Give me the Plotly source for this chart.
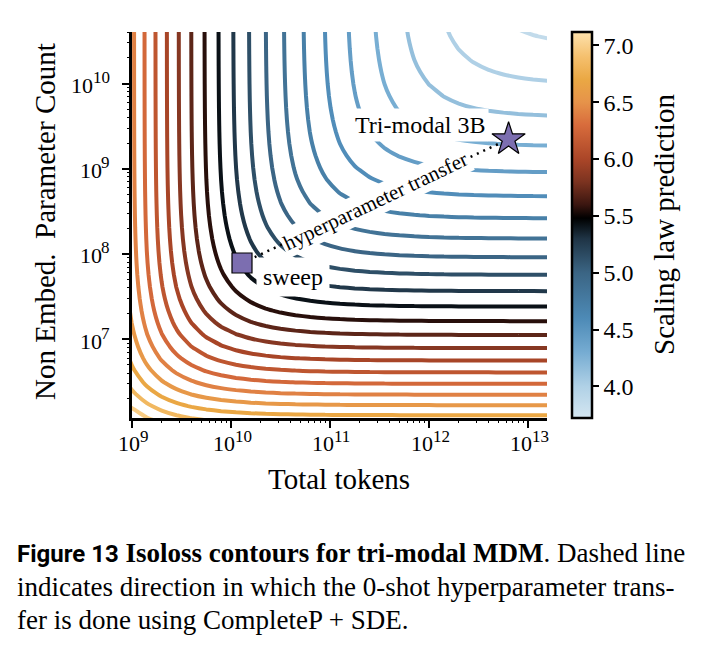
import numpy as np
import plotly.graph_objects as go

# ---------------- data ----------------
# fitted scaling law:  L(N, D) = E + ((NC/N)^ALPHA + (DC/D)^BETA)^GAMMA
LAW_E = 2.956
LAW_NC = 1.38e10
LAW_ALPHA = 0.819
LAW_DC = 1.397e12
LAW_BETA = 0.994
LAW_GAMMA = 0.1733

LEVEL_MIN = 3.722          # colour-bar bottom
LEVEL_MAX = 7.117          # colour-bar top
LEVEL_STEPS = 24           # equally spaced iso-loss levels

TOKENS_LOG_RANGE = [9.0, 13.19]
PARAMS_LOG_RANGE = [6.074, 10.605]

X_TICK_EXP = [9, 10, 11, 12, 13]
Y_TICK_EXP = [6, 7, 8, 9, 10]
Y_LABEL_EXP = [7, 8, 9, 10]
MINOR_MULT = [2, 3, 4, 5, 6, 7, 8, 9]
CBAR_TICKS = [4.0, 4.5, 5.0, 5.5, 6.0, 6.5, 7.0]

CBAR_STOPS = [3.722, 4.0, 4.3, 4.6, 5.0, 5.3, 5.48, 5.6, 5.8, 6.0, 6.3, 6.5, 6.7, 6.9, 7.117]
CBAR_COLORS = ['#d4e6f1', '#b0d1e6', '#76acd2', '#4d8ab6', '#3b6584', '#1f3445', '#000000',
               '#3b1610', '#7c3320', '#ab4628', '#d86c3c', '#e6934a', '#eaa844', '#f5c06e', '#fde2ad']

SWEEP_POINT = [1.29e10, 7.82e7]       # (tokens, params)
TRIMODAL_POINT = [6.34e12, 2.22e9]
MARK_COLOR = '#7c6eb0'

SERIF = 'Liberation Serif, Times New Roman, DejaVu Serif, serif'

# ---------------- grid (coarse, like the reference) ----------------
logD = np.arange(TOKENS_LOG_RANGE[0] - 0.15, TOKENS_LOG_RANGE[1] + 0.16, 0.15)
logN = np.arange(PARAMS_LOG_RANGE[0] - 0.14, PARAMS_LOG_RANGE[1] + 0.15, 0.14)
D = 10 ** logD
N = 10 ** logN
DD, NN = np.meshgrid(D, N)
Z = LAW_E + ((LAW_NC / NN) ** LAW_ALPHA + (LAW_DC / DD) ** LAW_BETA) ** LAW_GAMMA

span = LEVEL_MAX - LEVEL_MIN
colorscale = [[(v - LEVEL_MIN) / span, c] for v, c in zip(CBAR_STOPS, CBAR_COLORS)]
colorscale[0][0] = 0.0
colorscale[-1][0] = 1.0

fig = go.Figure()
fig.add_trace(go.Contour(
    x=D, y=N, z=Z,
    autocontour=False,
    contours=dict(start=LEVEL_MIN, end=LEVEL_MAX, size=span / LEVEL_STEPS, coloring='lines'),
    colorscale=colorscale,
    line=dict(width=4, smoothing=0.3),
    showscale=False,
    hoverinfo='skip',
))

# colour bar (continuous) via an invisible helper trace
fig.add_trace(go.Scatter(
    x=[1e8, 1e8], y=[1e5, 1e5], mode='markers',
    marker=dict(color=[LEVEL_MIN, LEVEL_MAX], colorscale=colorscale, cmin=LEVEL_MIN, cmax=LEVEL_MAX,
                size=1, showscale=True,
                colorbar=dict(x=1.06, xanchor='left', xpad=0, ypad=0, y=0.5, yanchor='middle',
                              len=1, lenmode='fraction', thickness=20, thicknessmode='pixels',
                              outlinewidth=2.5, outlinecolor='black',
                              ticks='outside', ticklen=6, tickwidth=1.5, tickcolor='black',
                              tickvals=CBAR_TICKS, ticktext=['%.1f' % t for t in CBAR_TICKS],
                              tickfont=dict(family=SERIF, size=24, color='black'))),
    hoverinfo='skip', showlegend=False,
))

# helper trace on the overlay axes that carry the minor ticks
fig.add_trace(go.Scatter(x=[1e8], y=[1e5], xaxis='x2', yaxis='y2', mode='markers',
                         marker=dict(size=1, opacity=0), hoverinfo='skip', showlegend=False))

# dotted transfer line
fig.add_trace(go.Scatter(
    x=[SWEEP_POINT[0], TRIMODAL_POINT[0]], y=[SWEEP_POINT[1], TRIMODAL_POINT[1]],
    mode='lines', line=dict(color='black', width=2.5, dash='2px,5px'),
    hoverinfo='skip', showlegend=False,
))
fig.add_trace(go.Scatter(
    x=[SWEEP_POINT[0]], y=[SWEEP_POINT[1]], mode='markers',
    marker=dict(symbol='square', size=20, color=MARK_COLOR, line=dict(color='black', width=1.2)),
    hoverinfo='skip', showlegend=False,
))
fig.add_trace(go.Scatter(
    x=[TRIMODAL_POINT[0]], y=[TRIMODAL_POINT[1]], mode='markers',
    marker=dict(symbol='star', size=25, color=MARK_COLOR, line=dict(color='black', width=1.2)),
    hoverinfo='skip', showlegend=False,
))

X_MINOR = [m * 10.0 ** e for e in X_TICK_EXP for m in MINOR_MULT]
Y_MINOR = [m * 10.0 ** e for e in Y_TICK_EXP for m in MINOR_MULT]

fig.update_layout(
    xaxis=dict(type='log', range=TOKENS_LOG_RANGE, showgrid=False, zeroline=False, showline=True,
               linewidth=2.5, linecolor='black', ticks='outside', ticklen=7, tickwidth=1.5,
               tickcolor='black', showticklabels=False,
               tickvals=[10.0 ** e for e in X_TICK_EXP]),
    yaxis=dict(type='log', range=PARAMS_LOG_RANGE, showgrid=False, zeroline=False, showline=True,
               linewidth=2.5, linecolor='black', ticks='outside', ticklen=7, tickwidth=1.5,
               tickcolor='black', showticklabels=False,
               tickvals=[10.0 ** e for e in Y_LABEL_EXP]),
    xaxis2=dict(type='log', range=TOKENS_LOG_RANGE, overlaying='x', anchor='y', side='bottom',
                showgrid=False, zeroline=False, showline=False, showticklabels=False,
                ticks='outside', ticklen=4, tickwidth=1, tickcolor='black', tickvals=X_MINOR),
    yaxis2=dict(type='log', range=PARAMS_LOG_RANGE, overlaying='y', anchor='x', side='left',
                showgrid=False, zeroline=False, showline=False, showticklabels=False,
                ticks='outside', ticklen=4, tickwidth=1, tickcolor='black', tickvals=Y_MINOR),
)

# --- pixel helpers for paper coordinates
PLOT_L, PLOT_W, PLOT_B, PLOT_H = 132, 415, 418, 386


def px(xp):
    return (xp - PLOT_L) / PLOT_W


def py(yp):
    return (PLOT_B - yp) / PLOT_H


# --- major tick labels "10^e" (base + raised exponent)
BASE_SIZE, EXP_SIZE = 22, 17
BASE_W = BASE_SIZE * 1.0           # "10" in a Times-metric font
for e in X_TICK_EXP:
    w_exp = EXP_SIZE * 0.5 * len(str(e))
    w = BASE_W + w_exp
    fig.add_annotation(xref='x', yref='paper', x=e, y=py(443), xanchor='left', yanchor='middle',
                       xshift=-w / 2, text='10', showarrow=False, borderpad=0,
                       font=dict(family=SERIF, size=BASE_SIZE, color='black'))
    fig.add_annotation(xref='x', yref='paper', x=e, y=py(436), xanchor='left', yanchor='middle',
                       xshift=-w / 2 + BASE_W, text=str(e), showarrow=False, borderpad=0,
                       font=dict(family=SERIF, size=EXP_SIZE, color='black'))
Y_LABEL_RIGHT = 111
for e in Y_LABEL_EXP:
    w_exp = EXP_SIZE * 0.5 * len(str(e))
    fig.add_annotation(xref='paper', yref='y', x=px(Y_LABEL_RIGHT - w_exp), y=e, xanchor='right',
                       yanchor='middle', yshift=-2, text='10', showarrow=False, borderpad=0,
                       font=dict(family=SERIF, size=BASE_SIZE, color='black'))
    fig.add_annotation(xref='paper', yref='y', x=px(Y_LABEL_RIGHT), y=e, xanchor='right',
                       yanchor='middle', yshift=6, text=str(e), showarrow=False, borderpad=0,
                       font=dict(family=SERIF, size=EXP_SIZE, color='black'))

TITLE_FONT = dict(family=SERIF, size=29, color='black')
# axis titles
fig.add_annotation(xref='paper', yref='paper', x=px(339), y=py(479), xanchor='center', yanchor='middle',
                   text='Total tokens', showarrow=False, font=TITLE_FONT)
fig.add_annotation(xref='paper', yref='paper', x=px(45), y=py(222), xanchor='center', yanchor='middle',
                   text='Non Embed.\u00a0 Parameter Count', textangle=-90, showarrow=False, font=TITLE_FONT)
fig.add_annotation(xref='paper', yref='paper', x=px(664), y=py(225), xanchor='center', yanchor='middle',
                   text='Scaling law prediction', textangle=-90, showarrow=False, font=TITLE_FONT)

# --- in-plot labels (x/y in log10 units for log axes)
fig.add_annotation(x=np.log10(TRIMODAL_POINT[0]) - 0.895, y=np.log10(TRIMODAL_POINT[1]) + 0.165,
                   xanchor='center', yanchor='middle',
                   text='Tri-modal 3B', showarrow=False, font=dict(family=SERIF, size=24, color='black'),
                   bgcolor='white', borderpad=3)
fig.add_annotation(x=np.log10(SWEEP_POINT[0]) + 0.514, y=np.log10(SWEEP_POINT[1]) - 0.165,
                   xanchor='center', yanchor='middle',
                   text='sweep', showarrow=False, font=dict(family=SERIF, size=24, color='black'),
                   bgcolor='white', borderpad=6)
mid_x = 11.461
mid_y = np.log10(SWEEP_POINT[1]) + (mid_x - np.log10(SWEEP_POINT[0])) * (
    (np.log10(TRIMODAL_POINT[1]) - np.log10(SWEEP_POINT[1])) / (np.log10(TRIMODAL_POINT[0]) - np.log10(SWEEP_POINT[0])))
fig.add_annotation(x=mid_x, y=mid_y, xanchor='center', yanchor='middle',
                   text='hyperparameter transfer', showarrow=False, textangle=-25.5,
                   font=dict(family=SERIF, size=21, color='black'), bgcolor='white', borderpad=2)

# --- caption (below the figure)
SANS_BOLD = 'Roboto, Liberation Sans, sans-serif'
caption = [
    ("<b><span style='font-family:" + SANS_BOLD + ";font-size:24px'>Figure\u00a013</span>\u00a0Isoloss contours for tri-modal MDM</b>. Dashed line", 553),
    ('indicates direction in which the 0-shot hyperparameter trans-', 587),
    ('fer is done using CompleteP + SDE.', 620),
]
for txt, yp in caption:
    fig.add_annotation(xref='paper', yref='paper', x=px(15), y=py(yp), xanchor='left', yanchor='middle',
                       align='left', text=txt, showarrow=False,
                       font=dict(family=SERIF, size=27, color='black'))

fig.update_layout(width=713, height=651, margin=dict(l=132, r=166, t=32, b=233, autoexpand=False),
                  plot_bgcolor='white', paper_bgcolor='white', showlegend=False,
                  font=dict(family=SERIF, color='black'))

fig.write_html('out.html')
